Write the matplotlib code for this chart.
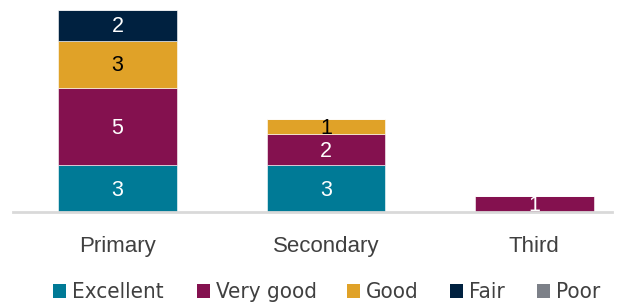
import numpy as np
import matplotlib
matplotlib.use("Agg")
import matplotlib.pyplot as plt
from matplotlib.patches import Rectangle

categories = ["Primary", "Secondary", "Third"]
series = ["Excellent", "Very good", "Good", "Fair", "Poor"]
excellent = [3, 3, 0]
very_good = [5, 2, 1]
good = [3, 1, 0]
fair = [2, 0, 0]
poor = [0, 0, 0]
colors = ["#007A96", "#84114F", "#E0A228", "#002140", "#7C8088"]
label_colors = ["white", "white", "black", "white", "white"]

values = [excellent, very_good, good, fair, poor]

W, H = 623, 305
fig = plt.figure(figsize=(W / 100, H / 100), dpi=100)
ax = fig.add_axes([13 / W, 1 - 212 / H, 599 / W, 212 / H])

x = np.arange(len(categories))
bottom = np.zeros(len(categories))
for name, vals, col, lc in zip(series, values, colors, label_colors):
    vals = np.array(vals, dtype=float)
    bars = ax.bar(x, vals, 0.57, bottom=bottom, color=col, edgecolor="white",
                  linewidth=0.4, label=name, zorder=2)
    for b, v, b0 in zip(bars, vals, bottom):
        if v > 0:
            ax.text(b.get_x() + b.get_width() / 2, b0 + v / 2 - 0.1, f"{int(v)}",
                    ha="center", va="center", color=lc, fontsize=15.5,
                    family="Liberation Sans", zorder=3)
    bottom += vals

ax.set_xlim(-0.502, 2.373)
ax.set_ylim(0, 212 / 15.55)
for s in ["top", "right", "left"]:
    ax.spines[s].set_visible(False)
ax.spines["bottom"].set_color("#D9D9D9")
ax.spines["bottom"].set_linewidth(2)
ax.set_yticks([])
ax.set_xticks(x)
ax.set_xticklabels(categories, fontsize=16, color="#404040", family="Liberation Sans")
ax.tick_params(axis="x", length=0, pad=17)

# legend drawn by hand so the entries sit where they do in the original
leg_x = [53, 197, 347, 450, 537]
leg_y = 291
for name, col, lx in zip(series, colors, leg_x):
    fig.patches.append(Rectangle((lx / W, 1 - (leg_y + 7) / H), 13 / W, 14 / H,
                                 transform=fig.transFigure, facecolor=col,
                                 edgecolor="none"))
    fig.text((lx + 19) / W, 1 - (leg_y + 1) / H, name, ha="left", va="center",
             fontsize=16, color="#404040", family="DejaVu Sans",
             fontstretch="condensed")

fig.savefig("out.png", dpi=100)
